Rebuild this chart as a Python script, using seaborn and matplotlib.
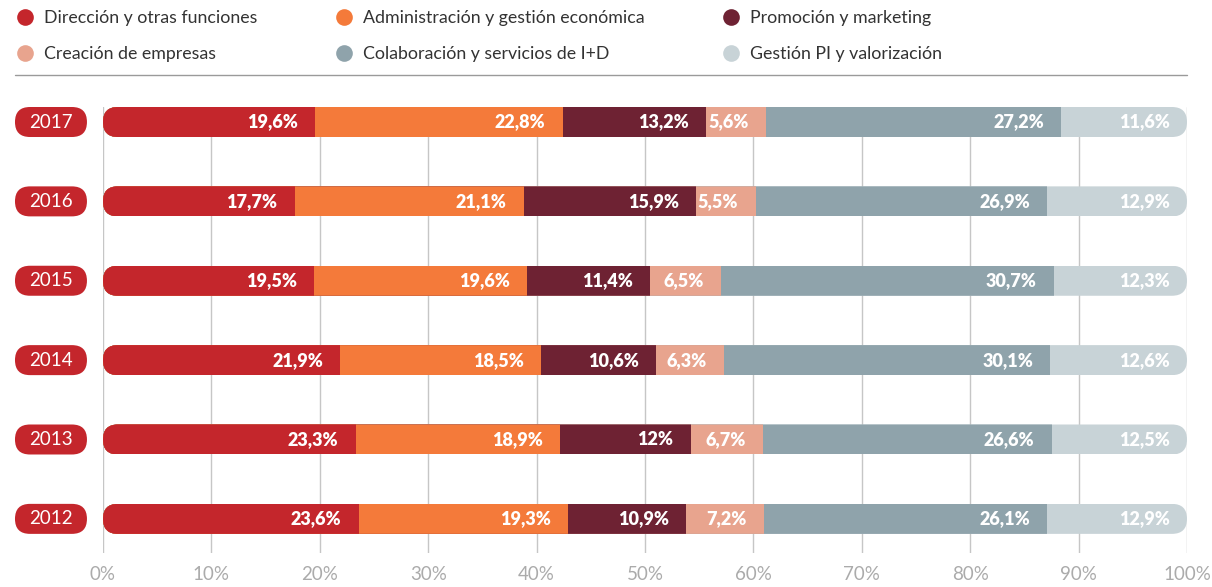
import numpy as np
import pandas as pd
import matplotlib
matplotlib.use("Agg")
import matplotlib.pyplot as plt
import seaborn as sns
from matplotlib.patches import FancyBboxPatch
from matplotlib.lines import Line2D

# datos
years = ["2017", "2016", "2015", "2014", "2013", "2012"]
categories = ["Dirección y otras funciones", "Administración y gestión económica",
              "Promoción y marketing", "Creación de empresas",
              "Colaboración y servicios de I+D", "Gestión PI y valorización"]
direccion = [19.6, 17.7, 19.5, 21.9, 23.3, 23.6]
administracion = [22.8, 21.1, 19.6, 18.5, 18.9, 19.3]
promocion = [13.2, 15.9, 11.4, 10.6, 12.0, 10.9]
creacion = [5.6, 5.5, 6.5, 6.3, 6.7, 7.2]
colaboracion = [27.2, 26.9, 30.7, 30.1, 26.6, 26.1]
gestion_pi = [11.6, 12.9, 12.3, 12.6, 12.5, 12.9]
colors = ["#C4262C", "#F47A3A", "#6E2233", "#E8A48E", "#8FA3AB", "#C8D3D7"]
xticks = [0, 10, 20, 30, 40, 50, 60, 70, 80, 90, 100]

series = [direccion, administracion, promocion, creacion, colaboracion, gestion_pi]
vals = np.array(series)            # categoria x año
cum = np.cumsum(vals, axis=0)

sns.set_style("white")
plt.rcParams["font.family"] = ["Lato", "DejaVu Sans"]

fig = plt.figure(figsize=(12.12, 5.87), dpi=100)
ax = fig.add_axes([103 / 1212, 1 - 553 / 587, 1084 / 1212, 446 / 587])

bar_h = 0.378
# barras apiladas: de la suma mayor a la menor
for i in range(len(categories) - 1, -1, -1):
    df = pd.DataFrame({"year": years, "cum": cum[i]})
    sns.barplot(data=df, x="cum", y="year", order=years, orient="h",
                color=colors[i], saturation=1, width=bar_h, errorbar=None,
                linewidth=0, ax=ax, zorder=3)

ax.set_xlim(0, 100)
ax.set_ylim(5.43, -bar_h / 2)
ax.set_xlabel("")
ax.set_ylabel("")
ax.set_yticks([])
ax.set_xticks(xticks)
ax.set_xticklabels([f"{t}%" for t in xticks], color="#ABABAB", fontsize=13.5)
ax.tick_params(axis="x", length=0, pad=9)
for s in ax.spines.values():
    s.set_visible(False)
for t in xticks:
    ax.axvline(t, color="#C6C6C6", lw=1, zorder=1)

# extremos redondeados
fig.canvas.draw()
px_x = ax.bbox.width / 100
px_y = ax.bbox.height / (5.43 + bar_h / 2)
r_x = (bar_h / 2) * px_y / px_x
aspect = (bar_h / 2) / r_x

clips = []
for r in range(len(years)):
    clip = FancyBboxPatch((0, r - bar_h / 2), 100, bar_h,
                          boxstyle=f"round,pad=0,rounding_size={r_x}",
                          mutation_aspect=aspect, transform=ax.transData,
                          facecolor="none", edgecolor="none")
    ax.add_patch(clip)
    clips.append(clip)
for p in ax.patches:
    if p in clips:
        continue
    row = int(round(p.get_y() + p.get_height() / 2))
    if 0 <= row < len(years):
        p.set_clip_path(clips[row])

# etiquetas de valores
pad = 1.6
for i in range(len(categories)):
    for r in range(len(years)):
        v = vals[i, r]
        txt = (f"{v:.0f}" if float(v).is_integer() else f"{v:.1f}").replace(".", ",") + "%"
        ax.text(cum[i, r] - pad, r, txt, ha="right", va="center", color="white",
                fontsize=13, fontweight="heavy", zorder=5)

# etiquetas de año
for r, y in enumerate(years):
    pill = FancyBboxPatch((-8.12, r - bar_h / 2), 6.64, bar_h,
                          boxstyle=f"round,pad=0,rounding_size={r_x}",
                          mutation_aspect=aspect, transform=ax.transData,
                          facecolor=colors[0], edgecolor="none", clip_on=False,
                          zorder=4)
    ax.add_patch(pill)
    ax.text(-4.8, r, y, ha="center", va="center", color="white", fontsize=13.5,
            clip_on=False, zorder=5)

# leyenda
order = [0, 3, 1, 4, 2, 5]
handles = [Line2D([], [], marker="o", linestyle="none", markersize=12,
                  markerfacecolor=colors[k], markeredgecolor="none") for k in order]
labels = [categories[k] for k in order]
fig.legend(handles, labels, ncol=3, loc="upper left",
           bbox_to_anchor=(0 / 1212, 1 + 6 / 587), frameon=False,
           fontsize=12.8, handlelength=1.0, handletextpad=0.55,
           columnspacing=4.4, labelspacing=1.15, labelcolor="#333333")

fig.add_artist(Line2D([15 / 1212, 1187 / 1212], [1 - 75 / 587, 1 - 75 / 587],
                      color="#9A9A9A", lw=1, transform=fig.transFigure))

fig.savefig("out.png", dpi=100)
